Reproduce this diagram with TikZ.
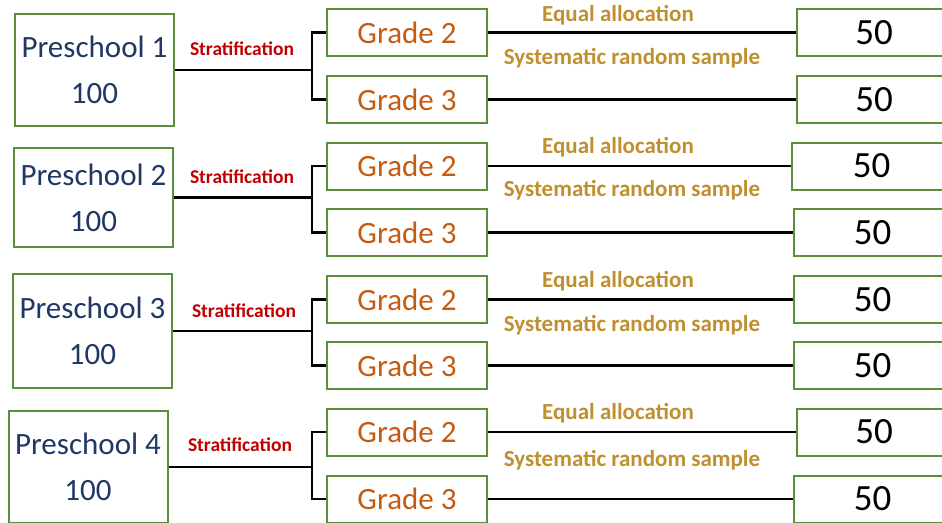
\documentclass[tikz,border=0pt]{standalone}
\usepackage{fontspec}
\setmainfont{Carlito}
\usepackage{xcolor}
\usetikzlibrary{positioning}
\definecolor{frame}{HTML}{5A8F3C}
\definecolor{navy}{HTML}{203864}
\definecolor{orange}{HTML}{C55A11}
\definecolor{stratred}{HTML}{C00000}
\definecolor{gold}{HTML}{BF9030}
\tikzset{
  box/.style={draw=frame, line width=2pt, fill=white, inner sep=0pt},
  school/.style={box, minimum width=159pt, text=navy, align=center, font=\fontsize{31}{46}\selectfont},
  gradebox/.style={box, minimum width=160pt, minimum height=47pt, text=orange, font=\fontsize{31}{34}\selectfont},
  numbox/.style={box, minimum height=47pt, text=black, font=\fontsize{37}{40}\selectfont},
  link/.style={draw=black, line width=2.2pt},
  labs/.style={text=stratred, font=\fontsize{19.5}{22}\selectfont\bfseries},
  laba/.style={text=gold, font=\fontsize{23}{26}\selectfont\bfseries},
}
\begin{document}
\begin{tikzpicture}[x=1pt,y=-1pt]
\clip (0,0) rectangle (942,522);
\fill[white] (0,0) rectangle (942,522);
\foreach \i/\px/\py/\ph/\ga/\gb/\na/\nb/\sx/\sy/\ey/\yy in {
  1/94.5/70/112/32.5/99.5/796/796/242/49/15/58,
  2/93.5/197.5/99/166/232.5/791/793/242/177/147/190,
  3/92.5/331/114/299.5/365.5/793/793/244/311/281/325,
  4/88/467/112/432/499/796/793/240/445/413/460}{
  \pgfmathsetmacro\wa{950-\na}
  \pgfmathsetmacro\wb{950-\nb}
  \node[school, minimum height=\ph pt] (p\i) at (\px,\py) {Preschool \i\\100};
  \node[gradebox] (ga\i) at (407,\ga) {Grade 2};
  \node[gradebox] (gb\i) at (407,\gb) {Grade 3};
  \node[numbox, minimum width=\wa pt, anchor=west] (na\i) at (\na,\ga) {50};
  \node[numbox, minimum width=\wb pt, anchor=west] (nb\i) at (\nb,\gb) {50};
  \coordinate (s\i) at (312,\py);
  \draw[link] (p\i.east) -- (s\i);
  \draw[link] (ga\i.west) -| (s\i) |- (gb\i.west);
  \draw[link] (ga\i.east) -- (na\i.west);
  \draw[link] (gb\i.east) -- (nb\i.west);
  \node[labs] (st\i) at (\sx,\sy) {Stratification};
  \node[laba] (eq\i) at (618,\ey) {Equal allocation};
  \node[laba] (sy\i) at (632,\yy) {Systematic random sample};
}
\end{tikzpicture}
\end{document}
